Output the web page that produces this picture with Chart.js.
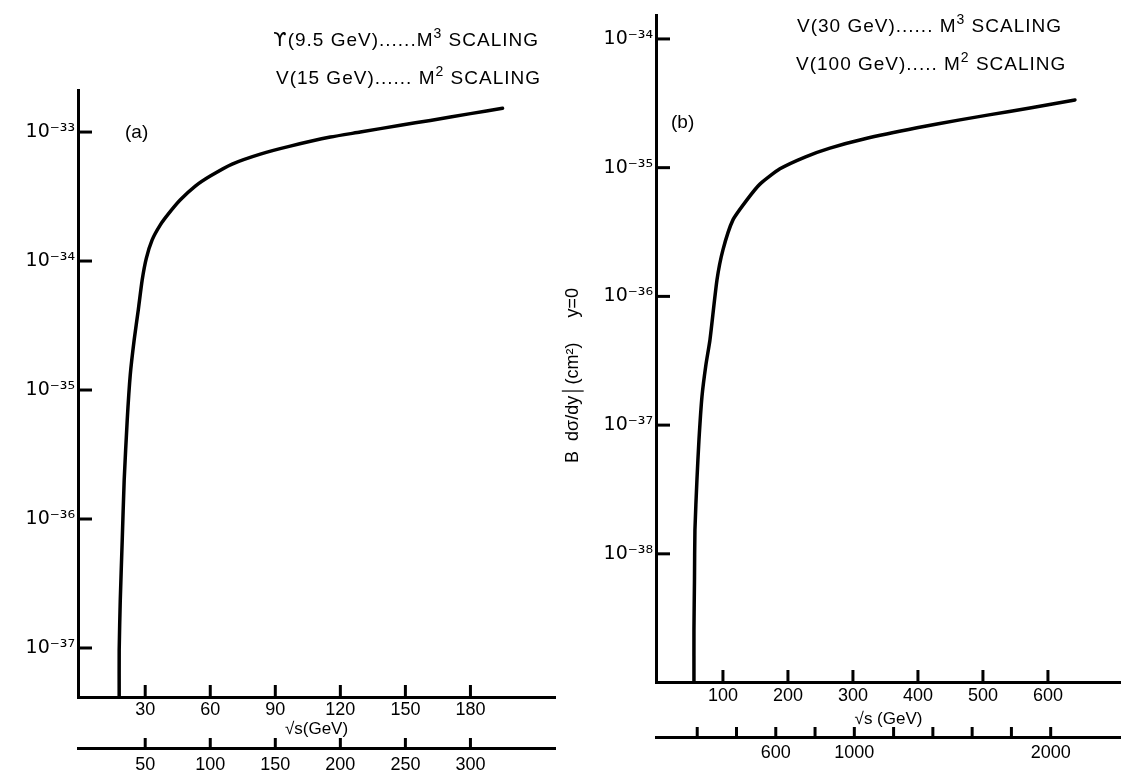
<!DOCTYPE html>
<html><head><meta charset="utf-8">
<script src="https://cdn.jsdelivr.net/npm/chart.js@4"></script>
<style>
html,body{margin:0;padding:0;background:#fff;}
body{width:1121px;height:781px;position:relative;overflow:hidden;font-family:"Liberation Sans",Arial,sans-serif;color:#000;}
canvas{position:absolute;top:0;}
#ca{left:0;} #cb{left:560px;}
.t{position:absolute;font-size:19px;white-space:nowrap;line-height:1;}
.lg{letter-spacing:1px;}
.t sup{font-size:14px;vertical-align:0;position:relative;top:-8px;}
.ups{font-family:"DejaVu Sans",sans-serif;}
</style></head><body>
<canvas id="ca" width="560" height="781"></canvas>
<canvas id="cb" width="561" height="781"></canvas>
<div class="t lg" style="right:582px;top:30px"><span class="ups">ϒ</span>(9.5 GeV)......M<sup>3</sup> SCALING</div>
<div class="t lg" style="right:580px;top:68px">V(15 GeV)...... M<sup>2</sup> SCALING</div>
<div class="t" style="left:125px;top:122px">(a)</div>
<div class="t lg" style="left:797px;top:16px">V(30 GeV)...... M<sup>3</sup> SCALING</div>
<div class="t lg" style="left:796px;top:54px">V(100 GeV)..... M<sup>2</sup> SCALING</div>
<div class="t" style="left:671px;top:112px">(b)</div>
<script>
// ---- Panel (a) data ----
const xTicksA = [30, 60, 90, 120, 150, 180];
const x2TicksA = [50, 100, 150, 200, 250, 300];
const yTicksA = [1e-33, 1e-34, 1e-35, 1e-36, 1e-37];
const yLabelsA = ['10⁻³³', '10⁻³⁴', '10⁻³⁵', '10⁻³⁶', '10⁻³⁷'];
const sqrtsA = [18.0, 18.0, 18.5, 19.4, 20.3, 21.7, 23.1, 24.9, 26.8, 28.6, 30.5, 33.2, 36.9, 40.6, 46.1, 53.1, 60.0, 70.1, 83.1, 96.9, 115.4, 129.2, 147.7, 161.5, 180.0, 194.8];
const sigmaA = [4.17e-38, 9.64e-38, 2.36e-37, 6.87e-37, 2.00e-36, 5.85e-36, 1.31e-35, 2.44e-35, 4.17e-35, 7.13e-35, 1.05e-34, 1.46e-34, 1.90e-34, 2.31e-34, 2.97e-34, 3.81e-34, 4.56e-34, 5.65e-34, 6.75e-34, 7.78e-34, 9.14e-34, 1.00e-33, 1.13e-33, 1.23e-33, 1.39e-33, 1.53e-33];

// ---- Panel (b) data ----
const xTicksB = [100, 200, 300, 400, 500, 600];
const x2TicksB = [200, 400, 600, 800, 1000, 1200, 1400, 1600, 1800, 2000];
const x2LabeledB = [600, 1000, 2000];
const yTicksB = [1e-34, 1e-35, 1e-36, 1e-37, 1e-38];
const yLabelsB = ['10⁻³⁴', '10⁻³⁵', '10⁻³⁶', '10⁻³⁷', '10⁻³⁸'];
const sqrtsB = [55.4, 55.4, 56.2, 56.9, 60.0, 63.1, 67.7, 73.8, 80.0, 90.8, 100.0, 115.4, 136.9, 156.9, 187.7, 226.2, 264.6, 316.9, 398.5, 464.6, 509.2, 572.3, 641.5];
const sigmaB = [1.01e-39, 2.57e-39, 6.28e-39, 1.53e-38, 3.76e-38, 7.67e-38, 1.66e-37, 2.94e-37, 4.59e-37, 1.34e-36, 2.30e-36, 3.93e-36, 5.62e-36, 7.45e-36, 9.80e-36, 1.21e-35, 1.42e-35, 1.67e-35, 2.04e-35, 2.35e-35, 2.57e-35, 2.91e-35, 3.36e-35];

Chart.defaults.font.family = '"Liberation Sans", Arial, sans-serif';
Chart.defaults.color = '#000';

function inwardTicks(spec) {
  return {
    id: 'inwardTicks',
    afterDatasetsDraw(chart) {
      const ctx = chart.ctx;
      ctx.save();
      ctx.strokeStyle = '#000';
      for (const id in spec) {
        const s = chart.scales[id];
        if (!s) continue;
        ctx.lineWidth = spec[id].width;
        for (const t of s.ticks) {
          const p = s.getPixelForValue(t.value);
          ctx.beginPath();
          if (s.isHorizontal()) { ctx.moveTo(p, s.top + 1); ctx.lineTo(p, s.top - spec[id].len); }
          else { ctx.moveTo(s.right - 1, p); ctx.lineTo(s.right + spec[id].len, p); }
          ctx.stroke();
        }
      }
      ctx.restore();
    }
  };
}

function labelFor(ticks, labels) {
  return v => {
    const i = ticks.findIndex(t => Math.abs(Math.log10(t) - Math.log10(v)) < 1e-6);
    return i >= 0 ? labels[i] : '';
  };
}

function makePanel(canvas, o) {
  const axisFont = { size: 18 };
  new Chart(canvas, {
    type: 'line',
    data: {
      datasets: [{
        data: o.xs.map((x, i) => ({ x: x, y: o.ys[i] })),
        borderColor: '#000', borderWidth: 3.5, pointRadius: 0, tension: 0.2,
        borderCapStyle: 'round', borderJoinStyle: 'round', fill: false,
        xAxisID: 'x', yAxisID: 'y'
      }]
    },
    options: {
      responsive: false, animation: false, devicePixelRatio: 1,
      layout: { padding: o.padding },
      plugins: { legend: { display: false }, title: { display: false }, tooltip: { enabled: false } },
      scales: {
        x: {
          type: 'linear', position: 'bottom', weight: 0, min: o.xMin, max: o.xMax,
          afterBuildTicks: s => { s.ticks = o.xTicks.map(v => ({ value: v })); },
          afterFit: s => { s.height = o.xH; },
          grid: { display: false, drawTicks: false },
          border: { display: true, color: '#000', width: 3 },
          ticks: { font: axisFont, padding: o.xPad, maxRotation: 0, autoSkip: false, callback: v => String(v) },
          title: { display: true, text: o.xTitle, font: { size: 17 }, padding: { top: 0, bottom: o.xTitlePad } }
        },
        x2: {
          type: 'linear', position: 'bottom', weight: 1, min: o.x2Min, max: o.x2Max,
          afterBuildTicks: s => { s.ticks = o.x2Ticks.map(v => ({ value: v })); },
          afterFit: s => { s.height = o.x2H; },
          grid: { display: false, drawTicks: false },
          border: { display: true, color: '#000', width: 3 },
          ticks: { font: axisFont, padding: o.x2Pad, maxRotation: 0, autoSkip: false,
                   callback: v => (o.x2Labeled ? (o.x2Labeled.includes(v) ? String(v) : '') : String(v)) }
        },
        y: {
          type: 'logarithmic', position: 'left', min: o.yMin, max: o.yMax,
          afterBuildTicks: s => { s.ticks = o.yTicks.map(v => ({ value: v })); },
          afterFit: s => { s.width = o.yW; },
          grid: { display: false, drawTicks: false },
          border: { display: true, color: '#000', width: 3 },
          ticks: { font: { family: '"DejaVu Sans", sans-serif', size: 19 }, padding: 3, autoSkip: false, callback: labelFor(o.yTicks, o.yLabels) },
          title: o.yTitle ? { display: true, text: o.yTitle, font: { size: 18 }, padding: { top: 2, bottom: 0 } } : { display: false }
        }
      }
    },
    plugins: [inwardTicks({ x: { len: 12, width: 3 }, x2: { len: 10, width: 3 }, y: { len: 14, width: 3 } })]
  });
}

makePanel(document.getElementById('ca'), {
  xs: sqrtsA, ys: sigmaA,
  xMin: -1, xMax: 219, xTicks: xTicksA, xTitle: '√s(GeV)',
  x2Min: -5 / 3, x2Max: 219 * 5 / 3, x2Ticks: x2TicksA,
  yMin: Math.pow(10, -37.38), yMax: Math.pow(10, -32.674), yTicks: yTicksA, yLabels: yLabelsA,
  padding: { top: 90, right: 5, left: 0, bottom: 0 },
  xH: 51, x2H: 33, yW: 78, xPad: 2, xTitlePad: 8, x2Pad: 6
});

makePanel(document.getElementById('cb'), {
  xs: sqrtsB, ys: sigmaB,
  xMin: -3, xMax: 712.4, xTicks: xTicksB, xTitle: '√s (GeV)',
  x2Min: -3 * 3.31, x2Max: 712.4 * 3.31, x2Ticks: x2TicksB, x2Labeled: x2LabeledB,
  yMin: 1.01e-39, yMax: Math.pow(10, -33.814), yTicks: yTicksB, yLabels: yLabelsB,
  yTitle: 'B  dσ/dy│(cm²)     y=0\u2003\u2003\u2003',
  padding: { top: 15, right: 0, left: 0, bottom: 0 },
  xH: 55, x2H: 44, yW: 96, xPad: 3, xTitlePad: 7, x2Pad: 5
});
</script>
</body></html>
